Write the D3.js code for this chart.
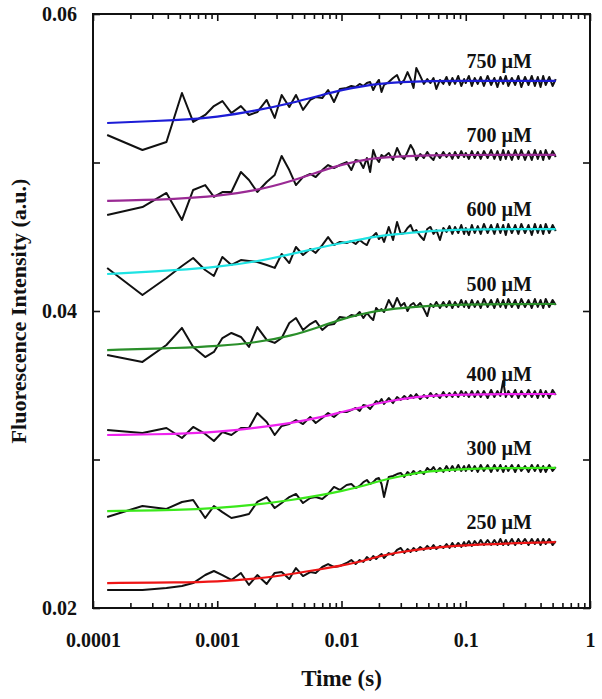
<!DOCTYPE html>
<html><head><meta charset="utf-8">
<script src="https://cdn.jsdelivr.net/npm/d3@7"></script>
<style>
body{margin:0;background:#fff;}
text{font-family:"Liberation Serif","Times New Roman",serif;font-weight:bold;fill:#111;}
</style>
</head><body>
<svg id="chart" width="602" height="699"></svg>
<script>
// ---- data ----
const time = [0.00013,0.00025,0.00039,0.00052,0.00064,0.0008,0.00094,0.0011,0.0013,0.00155,0.0018,0.0021,0.0025,0.0029,0.0033,0.0038,0.0043,0.0049,0.0056,0.0062,0.007,0.0078,0.0087,0.0097,
0.011,0.012,0.013,0.014,0.015,0.016,0.017,0.018,0.019,0.020,
0.021,0.022,0.024,0.026,0.028,0.030,0.032,0.034,0.036,0.038,
0.040,0.043,0.046,0.049,0.052,0.055,0.058,0.062,0.066,0.070,
0.074,0.078,0.082,0.087,0.092,0.097,0.10,0.106,0.112,0.118,
0.125,0.132,0.14,0.15,0.16,0.17,0.18,0.19,0.20,0.21,
0.22,0.235,0.25,0.265,0.28,0.30,0.32,0.34,0.36,0.38,
0.40,0.42,0.44,0.47,0.50,0.53];

const concentrations = ["750 \u00b5M","700 \u00b5M","600 \u00b5M","500 \u00b5M","400 \u00b5M","300 \u00b5M","250 \u00b5M"];
const fitColors = ["#1c1cd6","#9a2a94","#1ee3e3","#2a8f2a","#ee22ee","#3ae81a","#ee1515"];

const trace750 = [0.05185,0.05084,0.05138,0.05468,0.05273,0.05320,0.05380,0.05414,0.05333,0.05380,0.05320,0.05340,0.05421,0.05300,0.05455,0.05374,0.05455,0.05354,0.05421,0.05441,0.05434,0.05488,0.05407,0.05495,
0.05502,0.05515,0.05508,0.05529,0.05515,0.05535,0.05542,0.05488,0.05529,0.05556,
0.05475,0.05522,0.05542,0.05569,0.05589,0.05529,0.05556,0.05609,0.05562,0.05502,
0.05636,0.05583,0.05529,0.05562,0.05535,0.05569,0.05495,0.05556,0.05529,0.05576,
0.05522,0.05569,0.05529,0.05583,0.05515,0.05562,0.05535,0.05583,0.05515,0.05569,
0.05529,0.05576,0.05515,0.05583,0.05522,0.05569,0.05508,0.05576,0.05529,0.05583,
0.05515,0.05569,0.05522,0.05583,0.05508,0.05576,0.05522,0.05583,0.05515,0.05576,
0.05508,0.05583,0.05522,0.05576,0.05515,0.05562];

const trace700 = [0.04646,0.04700,0.04795,0.04613,0.04815,0.04848,0.04768,0.04801,0.04801,0.04936,0.04882,0.04801,0.04869,0.04916,0.05044,0.04949,0.04848,0.04902,0.04923,0.04902,0.04949,0.04983,0.04963,0.04983,
0.05003,0.04949,0.05017,0.05010,0.04963,0.05030,0.04936,0.05084,0.05030,0.05003,
0.05051,0.05037,0.05064,0.05017,0.05098,0.05044,0.05024,0.05071,0.05118,0.05084,
0.05017,0.05057,0.05030,0.05071,0.05037,0.05017,0.05064,0.05030,0.05071,0.05037,
0.05064,0.05024,0.05071,0.05030,0.05077,0.05037,0.05064,0.05024,0.05077,0.05030,
0.05071,0.05024,0.05077,0.05030,0.05084,0.05024,0.05077,0.05017,0.05084,0.05024,
0.05077,0.05017,0.05084,0.05024,0.05084,0.05017,0.05077,0.05017,0.05084,0.05024,
0.05077,0.05017,0.05084,0.05024,0.05077,0.05037];

const trace600 = [0.04290,0.04108,0.04222,0.04303,0.04357,0.04276,0.04236,0.04364,0.04310,0.04343,0.04337,0.04330,0.04310,0.04290,0.04384,0.04323,0.04431,0.04377,0.04418,0.04391,0.04444,0.04498,0.04444,0.04465,
0.04458,0.04471,0.04451,0.04478,0.04458,0.04444,0.04492,0.04505,0.04525,0.04485,
0.04505,0.04465,0.04566,0.04478,0.04599,0.04519,0.04525,0.04559,0.04579,0.04532,
0.04545,0.04505,0.04478,0.04552,0.04566,0.04519,0.04545,0.04478,0.04559,0.04532,
0.04572,0.04519,0.04566,0.04525,0.04579,0.04519,0.04559,0.04512,0.04579,0.04525,
0.04572,0.04519,0.04586,0.04525,0.04579,0.04519,0.04586,0.04525,0.04579,0.04512,
0.04586,0.04525,0.04579,0.04519,0.04586,0.04525,0.04579,0.04512,0.04586,0.04525,
0.04579,0.04519,0.04586,0.04525,0.04579,0.04539];

const trace500 = [0.03704,0.03657,0.03771,0.03886,0.03758,0.03690,0.03724,0.03818,0.03852,0.03825,0.03758,0.03892,0.03805,0.03785,0.03818,0.03919,0.03953,0.03872,0.03912,0.03933,0.03872,0.03906,0.03912,0.03960,
0.03953,0.03973,0.03966,0.03993,0.03953,0.03987,0.03960,0.03939,0.04020,0.04000,
0.04013,0.03993,0.04074,0.04020,0.04088,0.04034,0.04054,0.04000,0.04040,0.04054,
0.04027,0.04054,0.04013,0.03966,0.04047,0.04027,0.04061,0.04020,0.04061,0.04027,
0.04067,0.04020,0.04061,0.04027,0.04074,0.04027,0.04067,0.04020,0.04074,0.04027,
0.04067,0.04020,0.04081,0.04027,0.04074,0.04020,0.04081,0.04027,0.04074,0.04020,
0.04081,0.04027,0.04074,0.04020,0.04081,0.04027,0.04074,0.04020,0.04081,0.04027,
0.04074,0.04020,0.04081,0.04027,0.04074,0.04040];

const trace400 = [0.03199,0.03178,0.03212,0.03145,0.03219,0.03172,0.03125,0.03185,0.03165,0.03212,0.03212,0.03313,0.03253,0.03165,0.03226,0.03239,0.03266,0.03239,0.03286,0.03246,0.03279,0.03313,0.03286,0.03320,
0.03320,0.03333,0.03347,0.03327,0.03367,0.03360,0.03340,0.03367,0.03394,0.03380,
0.03407,0.03374,0.03414,0.03380,0.03421,0.03401,0.03428,0.03407,0.03434,0.03414,
0.03441,0.03407,0.03434,0.03414,0.03448,0.03421,0.03441,0.03414,0.03455,0.03421,
0.03448,0.03421,0.03455,0.03421,0.03461,0.03428,0.03455,0.03421,0.03461,0.03421,
0.03461,0.03421,0.03461,0.03414,0.03468,0.03421,0.03461,0.03428,0.03529,0.03421,
0.03461,0.03421,0.03468,0.03414,0.03461,0.03421,0.03468,0.03421,0.03461,0.03414,
0.03468,0.03421,0.03461,0.03414,0.03468,0.03434];

const trace300 = [0.02613,0.02687,0.02667,0.02714,0.02727,0.02606,0.02687,0.02646,0.02606,0.02620,0.02633,0.02714,0.02747,0.02673,0.02707,0.02747,0.02768,0.02707,0.02741,0.02747,0.02734,0.02768,0.02815,0.02795,
0.02828,0.02835,0.02808,0.02822,0.02848,0.02862,0.02835,0.02848,0.02869,0.02875,
0.02835,0.02747,0.02882,0.02889,0.02902,0.02909,0.02882,0.02916,0.02896,0.02923,
0.02902,0.02923,0.02902,0.02943,0.02923,0.02949,0.02916,0.02943,0.02916,0.02956,
0.02923,0.02956,0.02923,0.02963,0.02923,0.02956,0.02923,0.02963,0.02923,0.02956,
0.02916,0.02963,0.02923,0.02963,0.02916,0.02963,0.02923,0.02963,0.02916,0.02956,
0.02923,0.02963,0.02916,0.02963,0.02923,0.02956,0.02916,0.02963,0.02923,0.02963,
0.02916,0.02956,0.02916,0.02963,0.02923,0.02949];

const trace250 = [0.02121,0.02121,0.02135,0.02148,0.02168,0.02222,0.02249,0.02222,0.02189,0.02236,0.02155,0.02222,0.02162,0.02236,0.02242,0.02195,0.02269,0.02215,0.02242,0.02236,0.02276,0.02296,0.02276,0.02283,
0.02303,0.02323,0.02296,0.02323,0.02310,0.02343,0.02323,0.02350,0.02330,0.02350,
0.02364,0.02337,0.02370,0.02357,0.02391,0.02404,0.02370,0.02397,0.02377,0.02404,
0.02384,0.02411,0.02391,0.02418,0.02397,0.02424,0.02397,0.02418,0.02404,0.02431,
0.02404,0.02438,0.02411,0.02438,0.02411,0.02444,0.02418,0.02451,0.02418,0.02451,
0.02424,0.02458,0.02424,0.02458,0.02424,0.02458,0.02424,0.02465,0.02424,0.02458,
0.02424,0.02465,0.02424,0.02465,0.02431,0.02465,0.02424,0.02465,0.02431,0.02465,
0.02424,0.02465,0.02431,0.02465,0.02424,0.02451];

const fitTime = [0.00013,0.0005,0.001,0.002,0.004,0.007,0.01,0.015,0.02,0.03,0.05,0.1,0.2,0.53];
const fit750 = [0.05266,0.05286,0.05306,0.05347,0.05401,0.05455,0.05488,0.05515,0.05529,0.05542,0.05549,0.05549,0.05549,0.05549];
const fit700 = [0.04741,0.04754,0.04774,0.04808,0.04875,0.04945,0.04985,0.05018,0.05032,0.05042,0.05048,0.05051,0.05051,0.05051];
const fit600 = [0.04249,0.04276,0.04296,0.04330,0.04384,0.04431,0.04458,0.04485,0.04505,0.04519,0.04539,0.04549,0.04552,0.04552];
const fit500 = [0.03737,0.03751,0.03764,0.03785,0.03832,0.03900,0.03945,0.03983,0.04003,0.04020,0.04035,0.04044,0.04047,0.04047];
const fit400 = [0.03165,0.03172,0.03185,0.03212,0.03246,0.03286,0.03320,0.03354,0.03380,0.03407,0.03431,0.03438,0.03441,0.03441];
const fit300 = [0.02653,0.02660,0.02673,0.02694,0.02727,0.02761,0.02788,0.02822,0.02855,0.02889,0.02923,0.02936,0.02943,0.02943];
const fit250 = [0.02168,0.02172,0.02178,0.02195,0.02229,0.02263,0.02286,0.02316,0.02350,0.02377,0.02404,0.02424,0.02434,0.02444];

const xTickValues = [0.0001,0.001,0.01,0.1,1];
const xTickLabels = ["0.0001","0.001","0.01","0.1","1"];
const yTickValues = [0.02,0.04,0.06];
const yTickLabels = ["0.02","0.04","0.06"];
const yMinorValues = [0.03,0.05];
const xTitle = "Time (s)";
const yTitle = "Fluorescence Intensity (a.u.)";

// ---- chart ----
const traces = [trace750,trace700,trace600,trace500,trace400,trace300,trace250];
const fits = [fit750,fit700,fit600,fit500,fit400,fit300,fit250];

const L = 93, R = 590, T = 14, B = 608;
const svg = d3.select("#chart");
const x = d3.scaleLog().domain([0.0001,1]).range([L,R]);
const y = d3.scaleLinear().domain([0.02,0.06]).range([B,T]);

const xMinor = [];
for (let e = -4; e < 0; e++) for (let m = 2; m <= 9; m++) xMinor.push(m * Math.pow(10, e));

function styleAxis(g){
  g.select(".domain").remove();
  g.selectAll(".tick line").attr("stroke","#111").attr("stroke-width",1.6);
  g.selectAll(".tick text").style("font-size","20px").attr("fill","#111");
}

svg.append("g").attr("transform",`translate(0,${B})`)
  .call(d3.axisBottom(x).tickValues(xTickValues).tickFormat((d,i)=>xTickLabels[i]).tickSize(-7).tickPadding(25))
  .call(styleAxis);
svg.append("g").attr("transform",`translate(0,${B})`)
  .call(d3.axisBottom(x).tickValues(xMinor).tickFormat("").tickSize(-5)).call(styleAxis);
svg.append("g").attr("transform",`translate(0,${T})`)
  .call(d3.axisTop(x).tickValues(xTickValues).tickFormat("").tickSize(-7)).call(styleAxis);
svg.append("g").attr("transform",`translate(0,${T})`)
  .call(d3.axisTop(x).tickValues(xMinor).tickFormat("").tickSize(-5)).call(styleAxis);
svg.append("g").attr("transform",`translate(${L},0)`)
  .call(d3.axisLeft(y).tickValues(yTickValues).tickFormat((d,i)=>yTickLabels[i]).tickSize(-7).tickPadding(16))
  .call(styleAxis);
svg.append("g").attr("transform",`translate(${L},0)`)
  .call(d3.axisLeft(y).tickValues(yMinorValues).tickFormat("").tickSize(-7)).call(styleAxis);
svg.append("g").attr("transform",`translate(${R},0)`)
  .call(d3.axisRight(y).tickValues(yTickValues.concat(yMinorValues)).tickFormat("").tickSize(-7)).call(styleAxis);

const line = d3.line().x(d=>x(d[0])).y(d=>y(d[1]));
traces.forEach(tr=>{
  svg.append("path").datum(time.map((t,i)=>[t,tr[i]]))
    .attr("d",line).attr("fill","none").attr("stroke","#111")
    .attr("stroke-width",2).attr("stroke-linejoin","round");
});
const fitLine = d3.line().x(d=>x(d[0])).y(d=>y(d[1])).curve(d3.curveBasis);
fits.forEach((f,k)=>{
  svg.append("path").datum(fitTime.map((t,i)=>[t,f[i]]))
    .attr("d",fitLine).attr("fill","none").attr("stroke",fitColors[k]).attr("stroke-width",2.2);
});
fits.forEach((f,k)=>{
  svg.append("text").attr("x",532).attr("y",y(f[f.length-1])-13)
    .attr("text-anchor","end").style("font-size","20px").text(concentrations[k]);
});

svg.append("rect").attr("x",L).attr("y",T).attr("width",R-L).attr("height",B-T)
  .attr("fill","none").attr("stroke","#111").attr("stroke-width",2);

svg.append("text").attr("x",(L+R)/2).attr("y",686).attr("text-anchor","middle")
  .style("font-size","23px").text(xTitle);
svg.append("text").attr("transform",`translate(26,${(T+B)/2}) rotate(-90)`)
  .attr("text-anchor","middle").style("font-size","22px").text(yTitle);
</script>
</body></html>
